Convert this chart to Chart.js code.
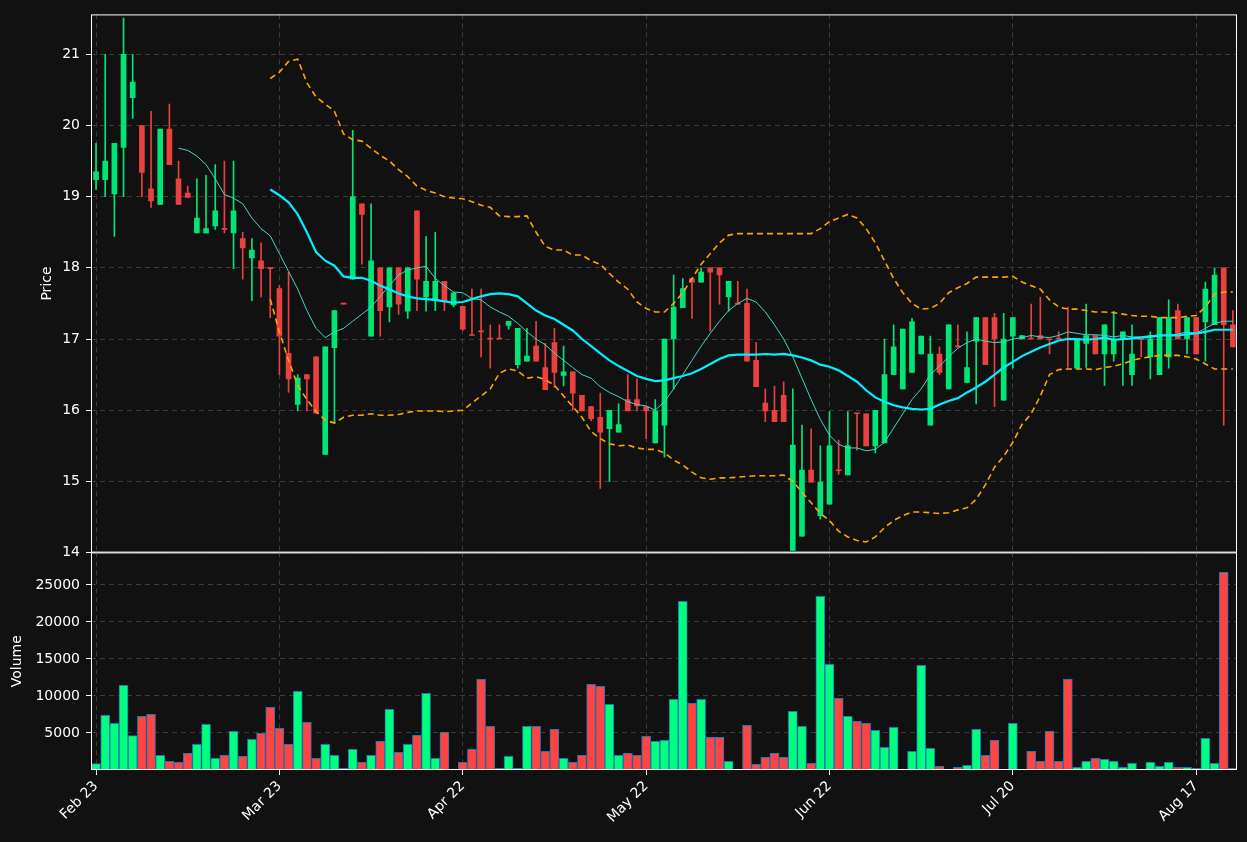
<!DOCTYPE html>
<html><head><meta charset="utf-8">
<script src="https://cdn.jsdelivr.net/npm/chart.js@4/dist/chart.umd.min.js"></script>
<style>
html,body{margin:0;padding:0;background:#111111;width:1247px;height:842px;overflow:hidden}
#c1{position:absolute;left:0;top:0}
#c2{position:absolute;left:0;top:538px}
</style></head><body>
<canvas id="c1" width="1247" height="567"></canvas>
<canvas id="c2" width="1247" height="304"></canvas>
<script>
const tickLabels = ['Feb 23','Mar 23','Apr 22','May 22','Jun 22','Jul 20','Aug 17'];
const opens = [19.24,19.24,19.04,19.69,20.39,20.0,19.11,18.89,19.95,19.25, 19.05,18.49,18.49,18.59,18.55,18.49,18.41,18.14,18.10,18.0,
 17.71,16.80,16.08,16.50,16.75,15.38,16.88,17.50,17.84,18.90, 17.04,18.0,17.45,18.0,17.39,18.80,17.59,17.54,17.81,17.48,
 17.46,17.06,17.11,17.01,17.01,17.19,16.64,16.69,16.90,16.60, 16.95,16.49,16.54,16.21,16.05,15.90,15.74,15.69,16.15,16.15,
 16.05,15.54,15.79,17.0,17.44,17.85,17.80,18.0,18.0,17.59, 17.50,17.50,16.70,16.10,16.0,16.21,14.03,14.23,15.16,14.52,
 14.68,15.16,15.09,15.96,15.95,15.50,15.54,16.5,16.30,16.53, 16.79,15.79,16.79,16.30,16.90,16.39,16.97,17.30,17.30,16.14,
 17.04,17.0,17.01,17.05,17.0,17.01,17.01,16.59,16.94,17.05, 16.79,16.79,17.0,16.5,17.0,16.75,16.5,16.75,17.40,17.0,
 17.30,17.24,17.2,18.0,17.2];
const highs = [19.75,21.0,19.75,21.51,21.0,20.0,20.2,19.95,20.3,19.5, 19.15,19.25,19.3,19.45,19.5,19.5,18.5,18.41,18.35,18.0,
 17.75,17.94,16.5,16.5,16.75,16.89,17.40,17.50,19.93,18.90, 18.9,18.0,18.0,18.0,18.0,18.80,18.44,18.5,17.81,17.65,
 17.46,17.7,17.7,17.2,17.2,17.25,17.15,17.15,17.25,16.94, 17.15,16.9,16.54,16.21,16.05,16.24,16.0,16.09,16.5,16.44,
 16.05,16.15,17.0,17.9,17.85,17.85,18.0,18.0,18.0,17.81, 17.81,17.7,16.95,16.3,16.34,16.4,16.3,15.79,15.74,15.5,
 15.98,15.58,15.98,15.96,15.95,16.0,17.0,17.2,17.14,17.29, 17.04,17.04,16.89,17.20,17.2,17.1,17.30,17.30,17.36,17.36,
 17.30,17.05,17.49,17.59,17.0,17.1,17.45,17.0,17.49,17.05, 17.20,17.39,17.10,17.2,17.0,17.1,17.30,17.55,17.49,17.30,
 17.30,17.8,18.0,18.0,17.4];
const lows = [19.10,19.0,18.44,19.0,20.1,19.0,18.85,18.89,19.45,18.89, 18.99,18.49,18.49,18.54,18.49,17.99,17.84,17.54,17.59,17.3,
 16.50,16.25,15.99,15.99,15.96,15.38,15.82,17.49,17.84,18.05, 17.04,17.04,17.24,17.35,17.29,17.40,17.39,17.40,17.40,17.45,
 17.12,17.05,16.75,16.59,17.0,17.14,16.59,16.69,16.69,16.29, 16.32,16.34,16.0,15.99,15.85,14.9,15.0,15.69,15.99,15.99,
 15.6,15.54,15.34,16.3,17.44,17.29,17.80,17.11,17.49,17.39, 17.49,16.69,16.33,15.84,15.84,15.84,14.03,14.23,14.99,14.47,
 14.68,15.10,15.09,15.44,15.50,15.40,15.54,16.5,16.30,16.53, 16.79,15.79,16.5,16.30,16.89,16.39,16.09,16.64,16.05,16.14,
 16.59,17.0,17.0,17.0,16.79,17.0,16.6,16.59,16.6,16.79, 16.35,16.69,16.35,16.35,16.75,16.44,16.5,16.59,17.0,16.79,
 16.79,16.69,17.2,15.79,16.89];
const closes = [19.35,19.50,19.75,21.0,20.61,19.34,18.94,19.95,19.45,18.89, 18.99,18.70,18.55,18.80,18.54,18.80,18.28,18.25,17.99,17.99,
 17.04,16.44,16.45,16.44,15.96,16.89,17.40,17.49,19.0,18.75, 18.10,17.40,18.0,17.49,18.0,17.84,17.81,17.81,17.54,17.65,
 17.14,17.05,17.1,17.0,17.0,17.25,17.15,16.76,16.69,16.29, 16.53,16.54,16.24,15.99,15.88,15.69,16.0,15.80,15.99,16.06,
 15.99,15.99,17.0,17.45,17.71,17.80,17.94,17.94,17.9,17.81, 17.49,16.69,16.33,15.99,15.84,15.84,15.51,15.16,14.99,14.99,
 15.50,15.15,15.50,15.95,15.50,16.0,16.50,16.89,17.14,17.24, 17.04,16.79,16.53,17.20,16.89,16.6,17.30,16.64,17.0,17.0,
 17.30,17.05,17.0,17.0,16.99,17.0,17.0,17.0,17.05,16.79, 17.20,17.0,17.10,16.79,16.99,17.0,17.30,17.30,17.0,17.30,
 16.79,17.70,17.90,17.2,16.89];
const volumes = [856,7390,6310,11440,4640,7250,7520,1980,1170,1040, 2250,3470,6170,1580,1980,5230,1850,4140,4960,8470,
 5630,3470,10630,6440,1580,3470,1980,225,2790,1040, 1980,3870,8200,2390,3470,4690,10360,1580,5090,90,
 1040,2790,12250,5900,225,1850,225,5900,5900,2520, 5500,1580,1040,1980,11580,11310,8870,1980,2250,1980,
 4550,3870,4010,9550,22800,9010,9550,4410,4410,1170, 90,6040,770,1710,2250,1710,7930,5900,900,23470,
 14280,9690,7250,6580,6310,5360,3060,5770,90,2520, 14150,2930,500,90,360,630,5500,1980,4010,90,
 6310,50,2520,1170,5230,1170,12250,360,1170,1580, 1440,1170,360,900,30,1040,500,1040,360,360,
 225,4280,900,26700,225];
const ma10 = [null,null,null,null,null,null,null,null,null,19.68, 19.65,19.57,19.45,19.25,19.03,18.98,18.9,18.7,18.55,18.45,
 18.2,17.95,17.7,17.4,17.15,17.02,17.1,17.15,17.25,17.35, 17.45,17.6,17.75,17.9,17.97,18.0,18.02,17.85,17.75,17.66,
 17.65,17.57,17.55,17.45,17.38,17.32,17.22,17.1,17.0,16.92, 16.8,16.7,16.6,16.5,16.45,16.33,16.25,16.19,16.12,16.08,
 16.06,16.0,16.12,16.3,16.5,16.7,16.9,17.08,17.25,17.4, 17.5,17.57,17.52,17.38,17.2,17.0,16.75,16.45,16.15,15.87,
 15.65,15.52,15.47,15.47,15.43,15.45,15.55,15.75,15.95,16.15, 16.3,16.5,16.62,16.75,16.87,16.95,17.0,16.97,16.95,16.96,
 17.0,17.02,17.05,17.03,17.02,17.05,17.1,17.08,17.06,17.06, 17.05,17.03,17.05,17.03,17.03,17.05,17.05,17.05,17.07,17.1,
 17.08,17.15,17.22,17.25,17.25];
const ma20 = [null,null,null,null,null,null,null,null,null,null, null,null,null,null,null,null,null,null,null,19.1,
 19.02,18.92,18.75,18.5,18.22,18.1,18.03,17.88,17.86,17.86, 17.82,17.75,17.7,17.64,17.6,17.57,17.56,17.55,17.53,17.51,
 17.52,17.56,17.6,17.63,17.64,17.63,17.6,17.5,17.4,17.33, 17.28,17.2,17.12,17.0,16.9,16.8,16.7,16.62,16.55,16.48,
 16.44,16.41,16.42,16.45,16.48,16.52,16.58,16.65,16.72,16.77, 16.78,16.78,16.78,16.79,16.78,16.79,16.77,16.74,16.7,16.64,
 16.61,16.56,16.48,16.4,16.28,16.18,16.12,16.07,16.04,16.02, 16.01,16.02,16.08,16.13,16.17,16.25,16.32,16.4,16.5,16.6,
 16.68,16.76,16.82,16.88,16.93,16.98,17.0,17.0,16.99,17.0, 17.02,16.99,17.0,17.01,17.02,17.03,17.05,17.05,17.05,17.07,
 17.08,17.1,17.13,17.13,17.13];
const upperBand = [null,null,null,null,null,null,null,null,null,null, null,null,null,null,null,null,null,null,null,20.66,
 20.75,20.9,20.93,20.6,20.4,20.3,20.2,19.88,19.8,19.78, 19.68,19.58,19.5,19.38,19.28,19.15,19.09,19.05,19.0,18.98,
 18.97,18.93,18.88,18.85,18.73,18.72,18.72,18.73,18.5,18.3, 18.25,18.25,18.18,18.18,18.1,18.05,17.92,17.8,17.7,17.52,
 17.43,17.38,17.38,17.5,17.65,17.85,18.05,18.2,18.35,18.46, 18.48,18.48,18.48,18.48,18.48,18.48,18.48,18.48,18.48,18.55,
 18.65,18.7,18.75,18.7,18.55,18.35,18.1,17.85,17.65,17.5, 17.42,17.43,17.5,17.65,17.72,17.78,17.87,17.87,17.87,17.87,
 17.88,17.8,17.75,17.7,17.55,17.45,17.42,17.42,17.4,17.38, 17.38,17.37,17.35,17.33,17.32,17.32,17.3,17.3,17.3,17.32,
 17.33,17.45,17.63,17.66,17.66];
const lowerBand = [null,null,null,null,null,null,null,null,null,null, null,null,null,null,null,null,null,null,null,17.56,
 17.1,16.7,16.35,16.15,15.98,15.86,15.82,15.9,15.93,15.93, 15.95,15.93,15.93,15.94,15.97,15.99,15.99,15.99,15.98,15.99,
 16.0,16.1,16.2,16.3,16.52,16.58,16.55,16.45,16.47,16.43, 16.35,16.2,16.05,15.9,15.7,15.6,15.53,15.5,15.51,15.47,
 15.45,15.45,15.4,15.3,15.23,15.13,15.05,15.03,15.05,15.05, 15.06,15.07,15.08,15.08,15.08,15.09,15.0,14.85,14.7,14.55,
 14.45,14.3,14.22,14.17,14.15,14.22,14.35,14.45,14.52,14.57, 14.57,14.56,14.55,14.56,14.6,14.63,14.75,14.95,15.2,15.35,
 15.55,15.8,15.95,16.2,16.5,16.57,16.58,16.58,16.58,16.57, 16.6,16.62,16.65,16.7,16.73,16.75,16.77,16.77,16.77,16.75,
 16.72,16.65,16.58,16.58,16.58];

const UP='#00e676', DN='#e8413f', VUP='#00ff7f', VDN='#ff4444';
const isUp = closes.map((c,i)=>c>=opens[i]);
const N = closes.length;
const idx = [...Array(N).keys()];
const GRID = '#3c3c3c';
const FONT = {family:'DejaVu Sans', size:14};

const frame = {id:'frame', afterDraw(ch){const a=ch.chartArea,c=ch.ctx;c.save();c.strokeStyle='#ffffff';c.lineWidth=1;c.strokeRect(a.left+0.5,a.top+0.5,a.right-a.left-1,a.bottom-a.top-1);c.restore();}};

const xBase = {type:'linear', min:-0.55, max:N-0.55, offset:false,
  afterBuildTicks(s){s.ticks=tickLabels.map((_,k)=>({value:k*20}));},
  border:{display:false, dash:[5,4]}};

const line = (d,color,w,dash)=>({type:'line', data:idx.map(i=>({x:i,y:d[i]})), borderColor:color, borderWidth:w, borderDash:dash||[], pointRadius:0, fill:false, spanGaps:false, tension:0, order:0});

new Chart(document.getElementById('c1'), {
  type:'bar',
  data:{datasets:[
    line(upperBand,'#ffa500',1.6,[6,4]),
    line(lowerBand,'#ffa500',1.6,[6,4]),
    line(ma20,'#00f0ff',2.2),
    line(ma10,'#3fd8c8',1),
    {data:idx.map(i=>({x:i,y:[Math.min(opens[i],closes[i]),Math.max(opens[i],closes[i])]})), backgroundColor:idx.map(i=>isUp[i]?UP:DN), barThickness:5, minBarLength:1, grouped:false, order:1},
    {data:idx.map(i=>({x:i,y:[lows[i],highs[i]]})), backgroundColor:idx.map(i=>isUp[i]?UP:DN), barThickness:1, minBarLength:1, grouped:false, order:2}
  ]},
  options:{responsive:false, animation:false,
    layout:{autoPadding:false, padding:{top:9,right:10,bottom:1,left:0}},
    plugins:{legend:{display:false}, tooltip:{enabled:false}},
    scales:{
      x:Object.assign({}, xBase, {ticks:{display:false}, grid:{color:GRID, drawTicks:false, offset:false}, afterFit(s){s.height=0;}}),
      y:{min:14, max:21.56, afterBuildTicks(s){s.ticks=[14,15,16,17,18,19,20,21].map(v=>({value:v}));},
        ticks:{color:'#ffffff', font:FONT, padding:6},
        grid:{color:GRID, tickColor:'#ffffff', tickLength:5}, border:{display:false, dash:[5,4]},
        title:{display:true, text:'Price', color:'#ffffff', font:FONT, padding:{top:39,bottom:0}},
        afterFit(s){s.width=91;}}
    }},
  plugins:[frame]
});

new Chart(document.getElementById('c2'), {
  type:'bar',
  data:{datasets:[
    {data:idx.map(i=>({x:i,y:volumes[i]})), backgroundColor:idx.map(i=>isUp[i]?VUP:VDN), borderColor:'#1f77b4', borderWidth:1, barThickness:9, grouped:false}
  ]},
  options:{responsive:false, animation:false,
    layout:{autoPadding:false, padding:{top:0,right:10,bottom:0,left:0}},
    plugins:{legend:{display:false}, tooltip:{enabled:false}},
    scales:{
      x:Object.assign({}, xBase, {grid:{color:GRID, offset:false, tickColor:'#ffffff', tickLength:5}, ticks:{color:'#ffffff', font:FONT, maxRotation:45, minRotation:45, autoSkip:false, callback:(v)=>tickLabels[v/20]}, afterFit(s){s.height=72;}}),
      y:{min:0, max:29400, afterBuildTicks(s){s.ticks=[5000,10000,15000,20000,25000].map(v=>({value:v}));},
        ticks:{color:'#ffffff', font:FONT, padding:6, callback:(v)=>String(v)},
        grid:{color:GRID, tickColor:'#ffffff', tickLength:5}, border:{display:false, dash:[5,4]},
        title:{display:true, text:'Volume', color:'#ffffff', font:FONT, padding:{top:9,bottom:0}},
        afterFit(s){s.width=91;}}
    }},
  plugins:[frame]
});
</script></body></html>
